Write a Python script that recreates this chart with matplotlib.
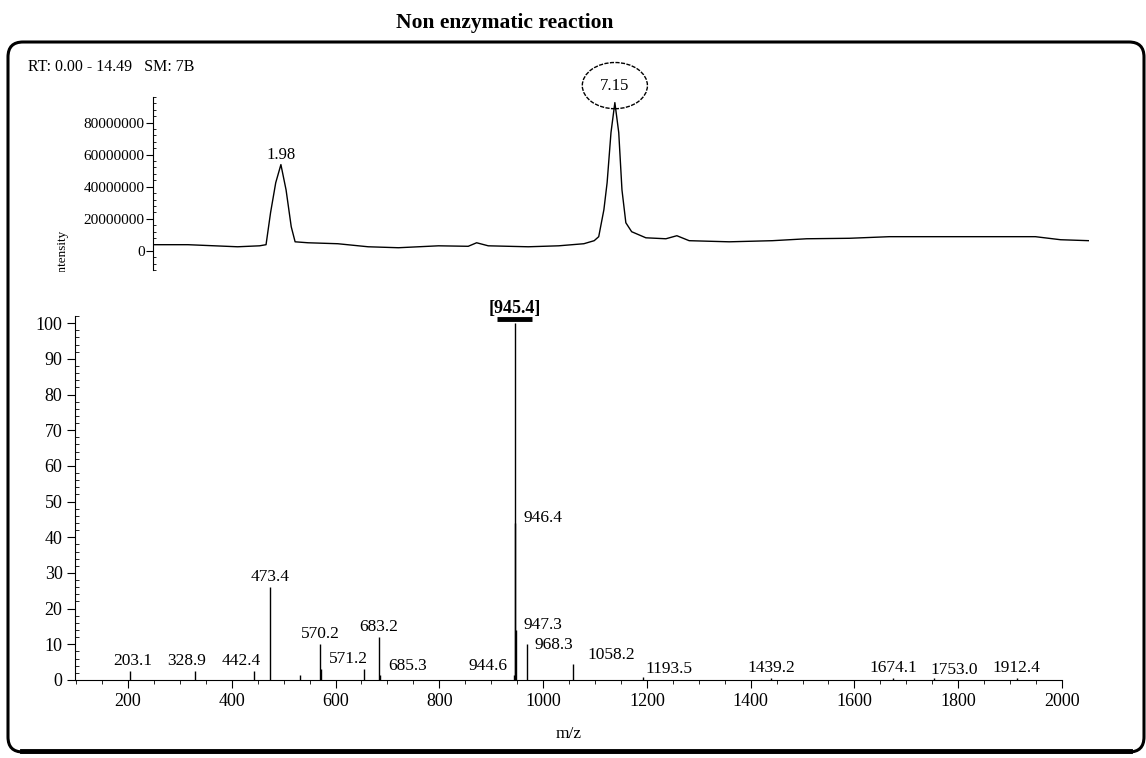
import matplotlib
matplotlib.use("Agg")
import matplotlib.pyplot as plt
from matplotlib.patches import FancyBboxPatch, Rectangle
from matplotlib.ticker import MultipleLocator, FuncFormatter

plt.rcParams['font.family'] = ['Liberation Serif', 'DejaVu Serif']

# TIC chromatogram (retention time in min, intensity in counts)
rt = [0.00, 0.54, 1.31, 1.65, 1.75, 1.82, 1.90, 1.98, 2.06, 2.14, 2.20, 2.40,
      2.86, 3.33, 3.80, 4.42, 4.88, 5.01, 5.19, 5.81, 6.28, 6.67, 6.83, 6.90,
      6.98, 7.03, 7.09, 7.15, 7.21, 7.26, 7.32, 7.41, 7.63, 7.94, 8.11, 8.30,
      8.92, 9.59, 10.12, 10.78, 11.40, 12.34, 13.66, 14.05, 14.49]
tic = [3.8e6, 3.8e6, 2.5e6, 3.1e6, 3.8e6, 23.8e6, 42.5e6, 53.8e6, 38.0e6, 15.0e6, 5.6e6, 5.0e6,
       4.4e6, 2.5e6, 1.9e6, 3.1e6, 2.8e6, 5.0e6, 3.1e6, 2.5e6, 3.1e6, 4.4e6, 6.3e6, 8.8e6,
       25.6e6, 42.5e6, 73.8e6, 92.5e6, 73.8e6, 38.0e6, 17.5e6, 11.9e6, 8.1e6, 7.5e6, 9.4e6, 6.3e6,
       5.6e6, 6.3e6, 7.5e6, 7.8e6, 8.8e6, 8.8e6, 8.8e6, 6.9e6, 6.3e6]
rt_labels = [1.98, 7.15]
rt_circled = 7.15

# mass spectrum of the 7.15 min peak
mz = [203.1, 328.9, 442.4, 473.4, 532.0, 570.2, 571.2, 655.2, 683.2, 685.3,
      944.6, 945.4, 946.4, 947.3, 968.3, 1058.2, 1193.5, 1439.2, 1674.1, 1753.0, 1912.4]
rel_ab = [2.5, 2.5, 2.5, 26, 1.5, 10, 3, 3, 12, 1.5,
          1.5, 100, 44, 14, 10, 4.5, 0.8, 0.6, 0.6, 0.6, 0.6]
labelled = [203.1, 328.9, 442.4, 473.4, 570.2, 571.2, 683.2, 685.3,
            944.6, 946.4, 947.3, 968.3, 1058.2, 1193.5, 1439.2, 1674.1, 1753.0, 1912.4]
base_peak = 945.4

# label nudges (pixels) where labels would collide
nudge = {203.1: (3, 2, 'center'), 328.9: (-8, 2, 'center'), 442.4: (-12, 2, 'center'),
         571.2: (8, 2, 'left'), 685.3: (8, 1, 'left'), 944.6: (-7, 1, 'right'),
         946.4: (8, -3, 'left'), 947.3: (8, -3, 'left'), 968.3: (8, -9, 'left'),
         1058.2: (14, 1, 'left'), 1193.5: (2, 0, 'left'), 1753.0: (20, 0, 'center')}

W, H = 1146, 758
fig = plt.figure(figsize=(W / 100, H / 100), dpi=100)

def box(l, t, r, b):
    return [l / W, 1 - b / H, (r - l) / W, (b - t) / H]

fig.text(505 / W, 1 - 23 / H, 'Non enzymatic reaction', ha='center', va='center',
         fontsize=15.5, fontweight='bold')
fig.patches.append(FancyBboxPatch((8 / 100, 6 / 100), (1144 - 8) / 100, (752 - 42) / 100,
                                  boxstyle='round,pad=0,rounding_size=0.15',
                                  transform=fig.dpi_scale_trans, fill=False, lw=2.2, ec='black'))
# heavier bottom edge of the frame
fig.lines.append(plt.Line2D([22 / W, 1130 / W], [1 - 751 / H, 1 - 751 / H],
                            transform=fig.transFigure, color='black', lw=3.5))
fig.text(28 / W, 1 - 67 / H, 'RT: 0.00 - 14.49   SM: 7B', ha='left', va='center', fontsize=11.5)

# --- chromatogram ---
ax1 = fig.add_axes(box(153, 97, 1089, 270))
ax1.plot(rt, tic, color='black', lw=1.0)
ax1.set_xlim(0, 14.49)
ax1.set_ylim(-12e6, 96e6)
for s in ['top', 'right', 'bottom']:
    ax1.spines[s].set_visible(False)
ax1.spines['left'].set_linewidth(0.8)
ax1.set_xticks([])
ax1.set_yticks([0, 20e6, 40e6, 60e6, 80e6])
ax1.yaxis.set_minor_locator(MultipleLocator(4e6))
ax1.yaxis.set_major_formatter(FuncFormatter(lambda v, p: f'{int(v)}'))
ax1.tick_params(axis='y', which='major', length=5, width=0.8, labelsize=11, pad=1)
ax1.tick_params(axis='y', which='minor', length=2.5, width=0.6, direction='in')
for t in rt_labels:
    i = rt.index(t)
    if t == rt_circled:
        bb = dict(boxstyle='ellipse,pad=0.5', fc='none', ec='black', lw=1.0, ls=(0, (3, 1)))
        ax1.annotate(f'{t:.2f}', xy=(t, tic[i]), xytext=(0, 9), textcoords='offset pixels',
                     ha='center', va='bottom', fontsize=12, bbox=bb)
    else:
        ax1.annotate(f'{t:.2f}', xy=(t, tic[i]), xytext=(0, 2), textcoords='offset pixels',
                     ha='center', va='bottom', fontsize=12)
ylab = fig.text(62 / W, 1 - 230 / H, 'Intensity', rotation=90, ha='center', va='top', fontsize=9.5)
ylab.set_clip_path(Rectangle((0, 1 - 272 / H), 1, 0.5, transform=fig.transFigure))

# --- mass spectrum ---
ax2 = fig.add_axes(box(75, 316, 1062, 680))
ax2.vlines(mz, 0, rel_ab, color='black', lw=1.0)
ax2.set_xlim(98, 2000)
ax2.set_ylim(0, 102)
for s in ['top', 'right']:
    ax2.spines[s].set_visible(False)
for s in ['left', 'bottom']:
    ax2.spines[s].set_linewidth(0.8)
ax2.set_xticks(range(200, 2001, 200))
ax2.xaxis.set_minor_locator(MultipleLocator(50))
ax2.set_yticks(range(0, 101, 10))
ax2.yaxis.set_minor_locator(MultipleLocator(2))
ax2.tick_params(which='major', length=6, width=0.8, labelsize=13, pad=3)
ax2.tick_params(which='minor', length=3, width=0.6)
ax2.tick_params(axis='y', which='minor', direction='in')
ax2.set_xlabel('m/z', fontsize=12.5, labelpad=12)

for m in labelled:
    a = rel_ab[mz.index(m)]
    dx, dy, ha = nudge.get(m, (0, 2, 'center'))
    ax2.annotate(f'{m:.1f}', xy=(m, a), xytext=(dx, dy), textcoords='offset pixels',
                 ha=ha, va='bottom', fontsize=12.5)

a = rel_ab[mz.index(base_peak)]
ax2.annotate(f'[{base_peak:.1f}]', xy=(base_peak, a), xytext=(0, 6), textcoords='offset pixels',
             ha='center', va='bottom', fontsize=13, fontweight='bold')
ax2.plot([base_peak - 34, base_peak + 34], [a + 1.2, a + 1.2], color='black', lw=3.5,
         solid_capstyle='butt', clip_on=False)

fig.savefig('out.png', dpi=100)
